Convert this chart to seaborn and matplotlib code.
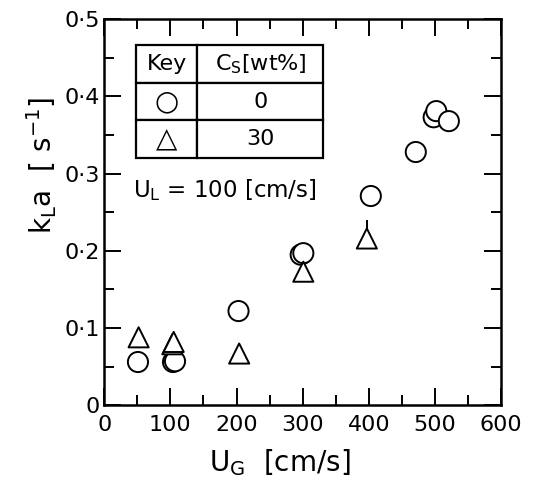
import numpy as np
import pandas as pd
import matplotlib
matplotlib.use("Agg")
import matplotlib.pyplot as plt
import seaborn as sns

# data
ug_circle = [51, 104, 107, 203, 297, 301, 403, 471, 498, 502, 521]
kla_circle = [0.056, 0.056, 0.057, 0.122, 0.195, 0.197, 0.271, 0.328, 0.373, 0.381, 0.368]
ug_tri = [52, 103, 105, 204, 301, 397]
kla_tri = [0.088, 0.079, 0.082, 0.067, 0.173, 0.216]
tri_err_up = [0, 0, 0, 0, 0, 0.024]

ytick_vals = [0, 0.1, 0.2, 0.3, 0.4, 0.5]
ytick_text = ["0", "0·1", "0·2", "0·3", "0·4", "0·5"]
xtick_vals = [0, 100, 200, 300, 400, 500, 600]

df = pd.DataFrame({
    "UG": ug_circle + ug_tri,
    "kLa": kla_circle + kla_tri,
    "Cs": ["0"] * len(ug_circle) + ["30"] * len(ug_tri),
})

sns.set_theme(style="white")
plt.rcParams["font.family"] = ["DejaVu Sans"]

fig = plt.figure(figsize=(5.4, 4.93), dpi=100)
ax = fig.add_axes([0.193, 0.178, 0.735, 0.783])

# small error bar on top of the triangle at 400 (drawn under the markers)
ax.errorbar(ug_tri, kla_tri, yerr=[np.zeros(len(tri_err_up)), tri_err_up],
            fmt="none", ecolor="black", elinewidth=1.4, capsize=0, zorder=1)

sns.scatterplot(data=df, x="UG", y="kLa", style="Cs", markers={"0": "o", "30": "^"},
                s=210, facecolor="white", edgecolor="black", linewidth=1.4,
                legend=False, ax=ax, zorder=3)

ax.set_xlim(0, 600)
ax.set_ylim(0, 0.5)
ax.set_xticks(xtick_vals)
ax.set_xticks(np.arange(50, 600, 100), minor=True)
ax.set_yticks(ytick_vals)
ax.set_yticklabels(ytick_text)
ax.set_yticks(np.arange(0.05, 0.5, 0.1), minor=True)
ax.tick_params(which="both", direction="in", top=True, right=True, bottom=True, left=True,
               colors="black", labelsize=16, width=1.4)
ax.tick_params(which="major", length=12)
ax.tick_params(which="minor", length=7)
ax.tick_params(axis="x", pad=7)
ax.tick_params(axis="y", pad=3)
for sp in ax.spines.values():
    sp.set_color("black")
    sp.set_linewidth(1.8)

ax.set_xlabel(r"U$_\mathrm{G}$  [cm/s]", fontsize=20, color="black")
ax.set_ylabel(r"k$_\mathrm{L}$a  [ s$^{-1}$]", fontsize=20, color="black")
ax.xaxis.set_label_coords(0.443, -0.108)
ax.yaxis.set_label_coords(-0.115, 0.62)

# key table
tbl = ax.table(cellText=[["Key", r"C$_\mathrm{S}$[wt%]"], ["○", "0"], ["△", "30"]],
               cellLoc="center", colWidths=[0.154, 0.317],
               bbox=[0.081, 0.64, 0.471, 0.293])
tbl.auto_set_font_size(False)
tbl.set_fontsize(16)
for (r, c), cell in tbl.get_celld().items():
    cell.set_edgecolor("black")
    cell.set_linewidth(1.6)
    cell.set_facecolor("white")
    cell.get_text().set_color("black")
    if r > 0 and c == 0:
        cell.get_text().set_fontsize(20)

ax.text(0.073, 0.557, r"U$_\mathrm{L}$ = 100 [cm/s]", transform=ax.transAxes,
        fontsize=16.5, va="center", ha="left", color="black")

fig.savefig("out.png", dpi=100)
